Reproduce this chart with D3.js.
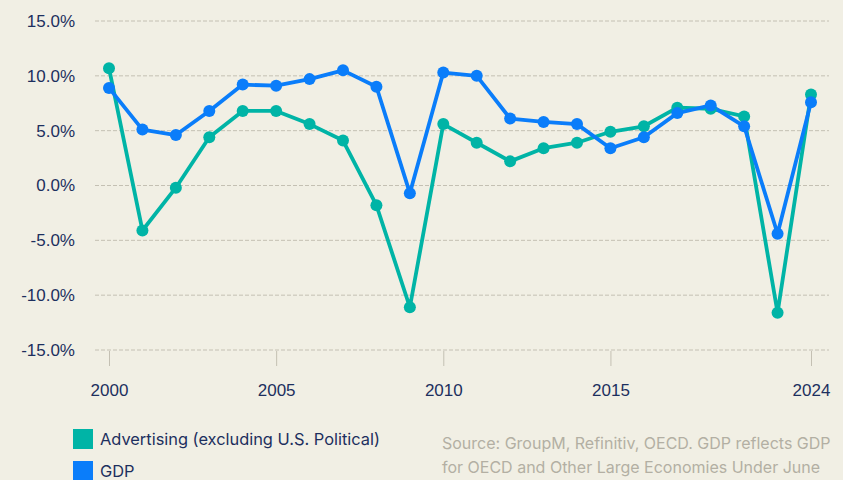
<!DOCTYPE html>
<html>
<head>
<meta charset="utf-8">
<script src="https://cdn.jsdelivr.net/npm/d3@7"></script>
<style>
    body { margin: 0; background: #f1efe4; }
    svg { display: block; font-family: Inter, "Noto Sans", sans-serif; }
</style>
</head>
<body>
<svg id="chart" width="843" height="480"></svg>
<script>
// data
var years = ["2000","2001","2002","2003","2004","2005","2006","2007","2008","2009","2010",
             "2011","2012","2013","2014","2015","2016","2017","2018","2019","2020","2024"];
var advertising = [10.7, -4.1, -0.2, 4.4, 6.8, 6.8, 5.6, 4.1, -1.8, -11.1, 5.6,
                   3.9, 2.2, 3.4, 3.9, 4.9, 5.4, 7.1, 7.0, 6.3, -11.6, 8.3];
var gdp = [8.9, 5.1, 4.6, 6.8, 9.2, 9.1, 9.7, 10.5, 9.0, -0.7, 10.3,
           10.0, 6.1, 5.8, 5.6, 3.4, 4.4, 6.6, 7.3, 5.4, -4.4, 7.6];
var yTicks = [15, 10, 5, 0, -5, -10, -15];
var xTicks = ["2000", "2005", "2010", "2015", "2024"];
var legendItems = ["Advertising (excluding U.S. Political)", "GDP"];
var sourceLines = ["Source: GroupM, Refinitiv, OECD. GDP reflects GDP",
                   "for OECD and Other Large Economies Under June"];

(function () {
    var svg = d3.select("#chart");
    var navy = "#1d2f5e";
    var colors = { ad: "#00b4a6", gdp: "#0a7dfa" };

    svg.append("rect").attr("width", 843).attr("height", 480).attr("fill", "#f1efe4");

    var x = d3.scalePoint().domain(years).range([109, 811]);
    var y = d3.scaleLinear().domain([-15, 15]).range([350, 21]);

    // gridlines
    svg.append("g")
        .selectAll("line")
        .data(yTicks)
        .enter()
        .append("line")
        .attr("x1", 95).attr("x2", 829)
        .attr("y1", function (d) { return y(d); })
        .attr("y2", function (d) { return y(d); })
        .attr("stroke", "#c4c0b3")
        .attr("stroke-width", 1)
        .attr("stroke-dasharray", "4,2");

    // y axis labels
    var yAxis = d3.axisLeft(y).tickValues(yTicks).tickSize(0).tickPadding(0)
        .tickFormat(function (d) { return d.toFixed(1) + "%"; });
    var gy = svg.append("g").attr("transform", "translate(75,0)").call(yAxis);
    gy.select(".domain").remove();
    gy.selectAll("text").attr("fill", navy).attr("font-size", 17).attr("font-family", null);

    // x axis
    var xAxis = d3.axisBottom(x).tickValues(xTicks).tickSize(15).tickPadding(18);
    var gx = svg.append("g").attr("transform", "translate(0,351)").call(xAxis);
    gx.select(".domain").remove();
    gx.selectAll("line").attr("stroke", "#c4c0b3");
    gx.selectAll("text").attr("fill", navy).attr("font-size", 17).attr("font-family", null);

    var series = [
        { key: "ad", values: advertising },
        { key: "gdp", values: gdp }
    ];

    var line = d3.line()
        .x(function (d, i) { return x(years[i]); })
        .y(function (d) { return y(d); });

    svg.append("g").selectAll("path")
        .data(series)
        .enter()
        .append("path")
        .attr("d", function (s) { return line(s.values); })
        .attr("fill", "none")
        .attr("stroke", function (s) { return colors[s.key]; })
        .attr("stroke-width", 3.8)
        .attr("stroke-linejoin", "round");

    series.forEach(function (s) {
        svg.append("g").selectAll("circle")
            .data(s.values)
            .enter()
            .append("circle")
            .attr("cx", function (d, i) { return x(years[i]); })
            .attr("cy", function (d) { return y(d); })
            .attr("r", 6)
            .attr("fill", colors[s.key]);
    });

    // legend
    var keys = ["ad", "gdp"];
    var lg = svg.append("g");
    legendItems.forEach(function (label, i) {
        lg.append("rect")
            .attr("x", 73).attr("y", 429 + i * 32)
            .attr("width", 20).attr("height", 20)
            .attr("fill", colors[keys[i]]);
        lg.append("text")
            .attr("x", 100).attr("y", 439 + i * 32)
            .attr("dy", "0.35em")
            .attr("font-size", 16.4)
            .attr("fill", navy)
            .text(label);
    });

    // source note
    svg.append("g").selectAll("text")
        .data(sourceLines)
        .enter()
        .append("text")
        .attr("x", 442)
        .attr("y", function (d, i) { return 443 + i * 24; })
        .attr("dy", "0.35em")
        .attr("font-size", 16)
        .attr("fill", "#b3afa3")
        .text(function (d) { return d; });
})();
</script>
</body>
</html>
